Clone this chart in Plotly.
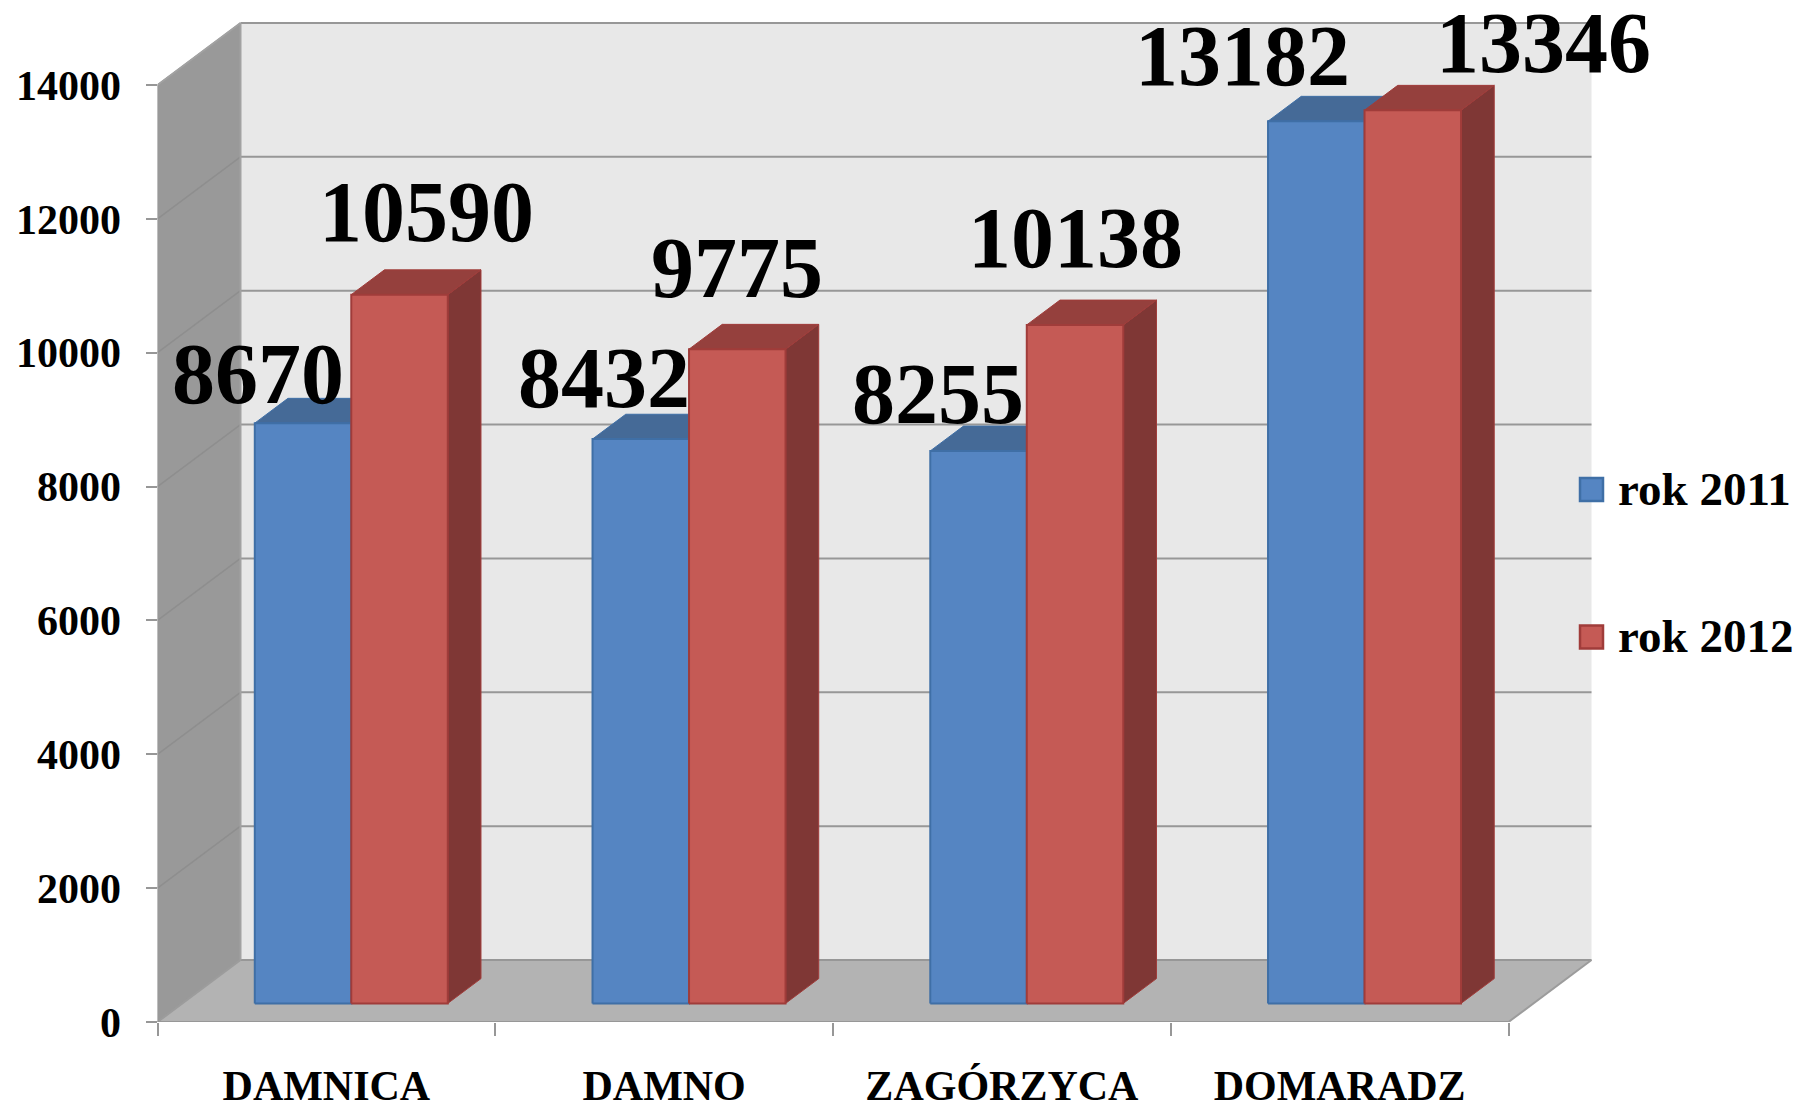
import plotly.graph_objects as go

# ---- data ----
categories = ["DAMNICA", "DAMNO", "ZAGÓRZYCA", "DOMARADZ"]
rok_2011 = [8670, 8432, 8255, 13182]
rok_2012 = [10590, 9775, 10138, 13346]
series_names = ["rok 2011", "rok 2012"]
y_ticks = [0, 2000, 4000, 6000, 8000, 10000, 12000, 14000]

# ---- pixel layout of the picture ----
W, H = 1800, 1103
X0_PX, Y0_PX = 157.5, 1022        # front-left corner of the floor
PX_PER_CAT = (1508.5 - 157.5) / 4
PX_PER_VAL = (1022 - 85) / 14000
DEPTH_X = 83 / PX_PER_CAT         # wall depth, in axis units
DEPTH_Y = 62 / PX_PER_VAL
FRONT = 0.3                       # bar front plane, share of depth
BAR_DEPTH = 0.4
BAR_W = 2 / 7
GAP = 1.5 / 7
CAT_N = len(categories)

FONT = "Liberation Serif"
GRID = "#979797"
styles = [
    dict(front="#5585C2", top="#456A97", side="#3C5F8C", edge="#3F6FA6"),
    dict(front="#C55A55", top="#95403D", side="#7F3735", edge="#A03C3A"),
]
# label offsets from the top centre of each bar's front, in pixels
label_shift = [
    [(-45, 49), (-37, 61), (-41, 57), (-74, 65)],
    [(27, 83), (0, 81), (0, 87), (131, 67)],
]
legend_y_px = [489.5, 637]


def val_from_px(py):
    return (Y0_PX - py) / PX_PER_VAL


def poly(fig, xs, ys, fill, line=None, width=0):
    fig.add_trace(go.Scatter(
        x=xs + xs[:1], y=ys + ys[:1], mode="lines", fill="toself",
        fillcolor=fill, line=dict(color=line or fill, width=width),
        showlegend=False, hoverinfo="skip"))


def segs(fig, pairs, color, width=2):
    xs, ys = [], []
    for (a, b), (c, d) in pairs:
        xs += [a, c, None]
        ys += [b, d, None]
    fig.add_trace(go.Scatter(x=xs, y=ys, mode="lines",
                             line=dict(color=color, width=width),
                             showlegend=False, hoverinfo="skip"))


fig = go.Figure()
top_val = y_ticks[-1]
dx, dy = DEPTH_X, DEPTH_Y

# walls and floor
poly(fig, [dx, CAT_N + dx, CAT_N + dx, dx], [dy, dy, top_val + dy, top_val + dy], "#E8E8E8")
poly(fig, [0, dx, dx, 0], [0, dy, top_val + dy, top_val], "#999999")
poly(fig, [0, CAT_N, CAT_N + dx, dx], [0, 0, dy, dy], "#B3B3B3")

# grid on the walls
segs(fig, [((dx, v + dy), (CAT_N + dx, v + dy)) for v in y_ticks], GRID)
segs(fig, [((0, v), (dx, v + dy)) for v in y_ticks[1:]], "#8E8E8E", 1.5)
segs(fig, [((dx, dy), (dx, top_val + dy)), ((0, top_val), (dx, top_val + dy))], "#A2A2A2")
segs(fig, [((0, 0), (dx, dy)), ((CAT_N, 0), (CAT_N + dx, dy))], "#9C9C9C")

# bars
fx, fy = FRONT * dx, FRONT * dy
bx, by = BAR_DEPTH * dx, BAR_DEPTH * dy
annotations = []
for i in range(CAT_N):
    for s, values in enumerate([rok_2011, rok_2012]):
        v = values[i]
        st = styles[s]
        x0 = i + GAP + s * BAR_W + fx
        x1 = x0 + BAR_W
        y0, y1 = fy, v + fy
        poly(fig, [x1, x1 + bx, x1 + bx, x1], [y0, y0 + by, y1 + by, y1], st["side"], st["edge"], 1)
        poly(fig, [x0, x1, x1 + bx, x0 + bx], [y1, y1, y1 + by, y1 + by], st["top"], st["edge"], 1)
        poly(fig, [x0, x1, x1, x0], [y0, y0, y1, y1], st["front"], st["edge"], 2)
        sx, sy = label_shift[s][i]
        annotations.append(dict(
            x=(x0 + x1) / 2, y=y1, xref="x", yref="y", text=str(v), showarrow=False,
            xshift=sx, yshift=sy, xanchor="center", yanchor="middle",
            font=dict(family=FONT, size=86, color="black", weight=700)))

# front axis lines
segs(fig, [((0, 0), (CAT_N, 0)), ((0, 0), (0, top_val))], GRID)

# legend
fig.add_trace(go.Scatter(
    x=[CAT_N + dx] * 2, y=[val_from_px(p) for p in legend_y_px],
    mode="markers",
    marker=dict(symbol="square", size=23,
                color=[st["front"] for st in styles],
                line=dict(color=[st["edge"] for st in styles], width=2.5)),
    cliponaxis=False, showlegend=False, hoverinfo="skip"))
for name, p in zip(series_names, legend_y_px):
    annotations.append(dict(
        x=CAT_N + dx, y=val_from_px(p), xref="x", yref="y", text=name, showarrow=False,
        xshift=24, yshift=1, xanchor="left", yanchor="middle",
        font=dict(family=FONT, size=47, color="black", weight=700)))

fig.update_layout(
    width=W, height=H, margin=dict(l=0, r=0, t=0, b=0), autosize=False,
    paper_bgcolor="white", plot_bgcolor="white", showlegend=False,
    hovermode=False, annotations=annotations,
    xaxis=dict(
        domain=[X0_PX / W, 1], range=[0, (W - X0_PX) / PX_PER_CAT],
        tickmode="array", tickvals=[i + 0.5 for i in range(CAT_N)], ticktext=categories,
        ticks="", ticklen=0, showgrid=False, zeroline=False, showline=False,
        tickfont=dict(family=FONT, size=42, color="black", weight=700),
        ticklabelstandoff=35,
        minor=dict(tickmode="array", tickvals=list(range(CAT_N + 1)), ticks="outside",
                   ticklen=13, tickwidth=2, tickcolor=GRID, showgrid=False),
        automargin=False, fixedrange=True),
    yaxis=dict(
        domain=[1 - Y0_PX / H, 1], range=[0, Y0_PX / PX_PER_VAL],
        tickmode="array", tickvals=y_ticks, ticktext=[str(v) for v in y_ticks],
        ticks="outside", ticklen=11, tickwidth=2, tickcolor=GRID,
        showgrid=False, zeroline=False, showline=False,
        tickfont=dict(family=FONT, size=42, color="black", weight=700),
        ticklabelstandoff=16, automargin=False, fixedrange=True),
)

fig.write_html("out.html", config=dict(displayModeBar=False),
               post_script="document.body.style.margin='0';")
